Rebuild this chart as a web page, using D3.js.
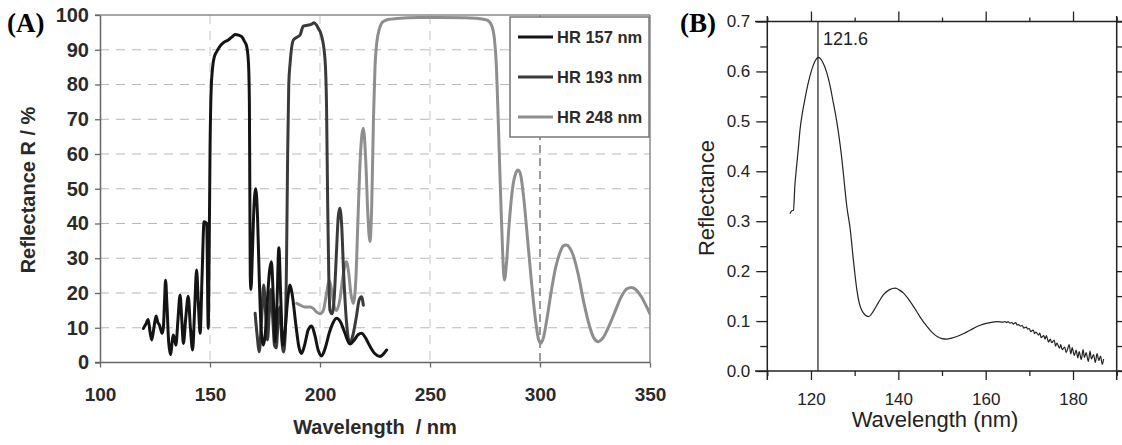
<!DOCTYPE html>
<html><head><meta charset="utf-8">
<script src="https://cdn.jsdelivr.net/npm/d3@7"></script>
<style>body{margin:0;background:#fff}svg{display:block}</style>
</head><body><svg id="c" width="1122" height="445"></svg>
<script>
// ---------- Panel A data ----------
const seriesNamesA = ["HR 157 nm", "HR 193 nm", "HR 248 nm"];
const xTicksA = [100, 150, 200, 250, 300, 350];
const yTicksA = [0, 10, 20, 30, 40, 50, 60, 70, 80, 90, 100];
const hr157 = [
[119.7,9.8],[120.8,11],[121.9,12.4],[122.7,9],[123.5,6.5],[124.5,10],[125.5,13.4],[126.3,11.5],[127,10.8],[127.6,9.5],[128.2,8.4],[128.8,10],[129.3,17],[129.8,23.7],[130.4,17],[131.2,6],[132.1,2.2],[132.8,6],[133.3,7.9],[133.9,6.5],[134.5,5],[135.4,12],[136.4,19.4],[137.2,12],[137.9,5.5],[139,13],[140.1,19.1],[141.1,10],[142.1,3.6],[143,15],[143.9,26.6],[144.7,17],[145.5,8.4],[146.4,25],[147.3,40.5],[148.5,40],[149.2,9.8],[149.6,30],[150,60],[150.5,78],[151.2,85],[152,88],[153,89.4],[154.5,91],[156,92],[158.3,92.8],[160,93.7],[161.4,94.4],[163,94.2],[164.4,93.8],[165.6,92.5],[166.7,90.9],[167.5,86],[167.9,75],[168.1,50],[168.3,25],[168.6,21],[169.3,32],[170,45],[170.8,50],[171.6,42],[172.4,24],[173.3,9],[174.2,5],[175.1,8],[176.1,18],[177,26],[177.9,29],[178.7,20],[179.6,6],[180.4,16],[181.3,33],[182.2,18],[183.1,5],[184.1,9],[185.3,18],[186.4,22.3],[187.5,19],[189,11],[190.4,4.5],[191.6,2.6],[193,5],[194.7,9.5],[196.2,10.5],[197.6,8],[199.2,3.5],[200.7,1.9],[202.3,4],[204.2,8.5],[206,11.5],[207.5,12.7],[209.2,11.8],[211.3,8.5],[213.6,5.3],[215.6,6.5],[217.3,8],[218.9,8.4],[220.6,7.2],[222.6,4.8],[225,2.5],[227.3,1.7],[228.8,2.4],[230.3,3.6]
];
const hr193 = [
[170.5,14.2],[171.4,8],[172.4,3.1],[173.4,12],[174.4,22.3],[175.3,14],[176.1,6.5],[177,15],[177.7,21],[178.5,13],[179.3,5],[180.1,4.2],[181,12],[181.8,16],[182.6,7],[183.4,3],[184.2,8],[184.8,30],[185.3,60],[185.8,80],[186.4,86],[187.9,92.8],[189.5,93.6],[190.9,94.2],[192.4,96.8],[194.7,97.1],[196,97.3],[197.3,97.8],[198.3,97.2],[199.2,96.2],[200.8,93.8],[202.3,87],[203,72.7],[203.5,45],[204,25],[204.5,15.1],[205.5,14],[206.5,19],[207.5,32],[208.3,42],[209,44.4],[209.8,40],[210.8,25],[212,12],[213.6,5.6],[215,8],[216.5,13],[217.8,18],[218.9,18.9],[219.4,17.8],[219.7,16.5]
];
const hr248 = [
[189.4,17],[191,16.5],[193,16],[195.5,16],[197,15.5],[198.5,14.5],[200,14],[201.5,15],[203,20],[204.2,23.7],[205.5,20],[206.5,16],[207.6,15],[209,18],[210.5,25],[212,29],[213,26],[214,20],[215.1,17],[216.3,24],[217.3,42],[218.4,60],[219.7,67.4],[220.8,58],[221.8,42],[222.7,34.8],[223.5,45],[224.3,70],[225,85],[225.8,92],[227,96],[228.5,98],[231,98.7],[235,99],[245,99.3],[255,99.3],[265,99.2],[272,99],[276,98.5],[278,97],[279.3,93],[280.2,85],[281,70],[282,50],[283,32],[283.8,23.7],[284.7,28],[286,40],[287.5,50],[289,54.5],[290.1,55.4],[291.2,54],[292.5,48],[294,38],[296,24],[298,12],[299.2,7],[300.3,5.5],[301.5,7],[303,12],[305,20],[307,27],[309,31.5],[310.5,33.5],[312.1,33.8],[313.5,33],[315,31],[317.5,25],[320,17],[322.5,10.5],[324.5,7],[326.5,6],[328.5,7],[331,10],[334,14.5],[337,19],[339.5,21.2],[341.6,21.6],[343.5,21],[346,19],[348.5,16],[350,14]
];

// ---------- Panel B data ----------
const xTicksB = [120, 140, 160, 180];
const xMinorB = [110, 130, 150, 170, 190];
const yTicksB = [0.0, 0.1, 0.2, 0.3, 0.4, 0.5, 0.6, 0.7];
const yMinorB = [0.05, 0.15, 0.25, 0.35, 0.45, 0.55, 0.65];
const peakB = 121.6;
const reflB = [
[115.2,0.315],[115.6,0.321],[116.0,0.322],[116.3,0.37],[116.6,0.40],[117.1,0.445],[117.5,0.484],[118.0,0.515],[118.6,0.544],[119.4,0.578],[120.2,0.604],[121.0,0.622],[121.7,0.628],[122.6,0.620],[123.6,0.598],[124.4,0.57],[125.1,0.538],[125.5,0.52],[126.3,0.477],[127.0,0.43],[127.4,0.397],[128.2,0.33],[129.0,0.283],[129.7,0.223],[130.5,0.163],[131.0,0.138],[131.6,0.122],[132.4,0.112],[133.2,0.109],[134.3,0.120],[135.5,0.138],[136.6,0.153],[138.0,0.163],[139.3,0.166],[140.3,0.162],[141.2,0.156],[142.4,0.143],[143.5,0.129],[145.0,0.108],[146.6,0.089],[147.8,0.077],[148.9,0.069],[150.0,0.065],[151.1,0.064],[152.2,0.066],[153.4,0.069],[155.0,0.075],[156.5,0.082],[158.0,0.089],[159.5,0.094],[161.0,0.097],[162.6,0.099],[164.0,0.098],
[164.4,0.099],[164.8,0.097],[165.1,0.099],[165.6,0.096],[166.0,0.097],[166.3,0.094],[166.9,0.097],[167.2,0.092],[167.5,0.093],[168.0,0.090],[168.4,0.091],[168.7,0.086],[169.3,0.088],[169.6,0.084],[170.0,0.085],[170.3,0.079],[170.9,0.082],[171.2,0.075],[171.5,0.078],[172.1,0.072],[172.4,0.076],[172.7,0.067],[173.3,0.071],[173.6,0.064],[173.9,0.071],[174.4,0.058],[174.8,0.064],[175.1,0.057],[175.7,0.062],[176.0,0.050],[176.3,0.056],[176.9,0.046],[177.2,0.053],[177.5,0.043],[178.1,0.048],[178.4,0.037],[178.8,0.045],[179.1,0.053],[179.5,0.034],[179.8,0.047],[180.3,0.031],[180.7,0.042],[181.1,0.026],[181.4,0.039],[181.9,0.023],[182.3,0.043],[182.6,0.027],[183.0,0.037],[183.5,0.019],[183.9,0.040],[184.2,0.024],[184.7,0.033],[185.1,0.017],[185.5,0.035],[185.9,0.021],[186.3,0.030],[186.7,0.013],[187.0,0.024]
];

const svg = d3.select("#c");
const SANS = "'Liberation Sans', Arial, sans-serif";
const SERIF = "'Liberation Serif', 'Times New Roman', serif";

// ================= Panel A =================
const xA = d3.scaleLinear().domain([100, 350]).range([100, 650]);
const yA = d3.scaleLinear().domain([0, 100]).range([362.5, 15]);
const gA = svg.append("g");

// grid
gA.append("g").selectAll("line").data(yTicksA.filter(d => d > 0 && d < 100)).join("line")
  .attr("x1", xA(100)).attr("x2", xA(350)).attr("y1", d => yA(d)).attr("y2", d => yA(d))
  .attr("stroke", "#b8b8b8").attr("stroke-width", 1.2).attr("stroke-dasharray", "9,7");
gA.append("g").selectAll("line").data(xTicksA.filter(d => d > 100 && d < 350)).join("line")
  .attr("x1", d => xA(d)).attr("x2", d => xA(d)).attr("y1", yA(100)).attr("y2", yA(0))
  .attr("stroke", d => d === 300 ? "#666" : "#c8c8c8").attr("stroke-width", d => d === 300 ? 1.3 : 1.1)
  .attr("stroke-dasharray", d => d === 300 ? "8,5" : "9,7");

// frame (top and right)
gA.append("line").attr("x1", 95).attr("x2", xA(350)).attr("y1", yA(100)).attr("y2", yA(100)).attr("stroke", "#8a8a8a").attr("stroke-width", 1.5);
gA.append("line").attr("x1", xA(350)).attr("x2", xA(350)).attr("y1", yA(100)).attr("y2", yA(0)).attr("stroke", "#8a8a8a").attr("stroke-width", 1.5);

// axes
const axA_x = gA.append("g").attr("transform", `translate(0,${yA(0)})`)
  .call(d3.axisBottom(xA).tickValues(xTicksA).tickSize(5).tickPadding(20).tickSizeOuter(0));
const axA_y = gA.append("g").attr("transform", `translate(${xA(100)},0)`)
  .call(d3.axisLeft(yA).tickValues(yTicksA).tickSize(5).tickPadding(6).tickSizeOuter(0));
[axA_x, axA_y].forEach(a => {
  a.selectAll("path.domain").attr("stroke", "#666").attr("stroke-width", 1.5);
  a.selectAll(".tick line").attr("stroke", "#666").attr("stroke-width", 1.3);
  a.selectAll("text").attr("font-family", SANS).attr("font-weight", "bold").attr("fill", "#2a2a2a");
});
axA_x.select("path.domain").attr("d", `M${95 - xA(100) + 100},0H${xA(350)}`);
axA_x.selectAll("text").attr("font-size", 19);
axA_y.selectAll("text").attr("font-size", 20);

// curves
const clipA = svg.append("clipPath").attr("id", "clipA").append("rect")
  .attr("x", xA(100)).attr("y", yA(100)).attr("width", xA(350) - xA(100)).attr("height", yA(0) - yA(100));
const lineA = d3.line().x(d => xA(d[0])).y(d => yA(d[1])).curve(d3.curveMonotoneX);
const colorsA = ["#141414", "#3a3a3a", "#8e8e8e"];
const dataA = [hr157, hr193, hr248];
const curves = gA.append("g").attr("clip-path", "url(#clipA)");
[2, 1, 0].forEach(i => {
  curves.append("path").datum(dataA[i]).attr("d", lineA).attr("fill", "none")
    .attr("stroke", colorsA[i]).attr("stroke-width", 3).attr("stroke-linejoin", "round").attr("stroke-linecap", "round");
});

// axis titles
gA.append("text").attr("x", 375).attr("y", 434).attr("text-anchor", "middle")
  .attr("font-family", SANS).attr("font-weight", "bold").attr("font-size", 20).attr("fill", "#2a2a2a")
  .attr("xml:space", "preserve").text("Wavelength  / nm");
gA.append("text").attr("transform", "translate(35,190) rotate(-90)").attr("text-anchor", "middle")
  .attr("font-family", SANS).attr("font-weight", "bold").attr("font-size", 20).attr("fill", "#2a2a2a")
  .text("Reflectance R / %");

// legend
const leg = gA.append("g");
leg.append("rect").attr("x", 510).attr("y", 17).attr("width", 139).attr("height", 120)
  .attr("fill", "#fff").attr("stroke", "#777").attr("stroke-width", 1.5);
seriesNamesA.forEach((n, i) => {
  const y = 37 + i * 40;
  leg.append("line").attr("x1", 518).attr("x2", 553).attr("y1", y).attr("y2", y)
    .attr("stroke", colorsA[i]).attr("stroke-width", 3);
  leg.append("text").attr("x", 557).attr("y", y + 6).attr("font-family", SANS).attr("font-weight", "bold")
    .attr("font-size", 16.5).attr("fill", "#2a2a2a").text(n);
});

// panel label
svg.append("text").attr("x", 7).attr("y", 32).attr("font-family", SERIF).attr("font-weight", "bold")
  .attr("font-size", 27).attr("fill", "#000").text("(A)");

// ================= Panel B =================
const xB = d3.scaleLinear().domain([110, 190]).range([767.3, 1116.7]);
const yB = d3.scaleLinear().domain([0, 0.7]).range([371, 21.5]);
const gB = svg.append("g");
const ink = "#222";

function ticks(axisFn, scale, vals, size, labels, pad) {
  return axisFn(scale).tickValues(vals).tickSize(size).tickSizeOuter(0).tickPadding(pad || 3)
    .tickFormat(labels ? null : () => "");
}
const bMaj = gB.append("g").attr("transform", `translate(0,${yB(0)})`).call(ticks(d3.axisBottom, xB, xTicksB, 9, true, 13).tickFormat(d3.format("d")));
const bMin = gB.append("g").attr("transform", `translate(0,${yB(0)})`).call(ticks(d3.axisBottom, xB, xMinorB, 5, false));
const tMaj = gB.append("g").attr("transform", `translate(0,${yB(0.7)})`).call(ticks(d3.axisTop, xB, xTicksB, 10, false));
const tMin = gB.append("g").attr("transform", `translate(0,${yB(0.7)})`).call(ticks(d3.axisTop, xB, xMinorB, 4, false));
const lMaj = gB.append("g").attr("transform", `translate(${xB(110)},0)`).call(ticks(d3.axisLeft, yB, yTicksB, 11, true, 6).tickFormat(d3.format(".1f")));
const lMin = gB.append("g").attr("transform", `translate(${xB(110)},0)`).call(ticks(d3.axisLeft, yB, yMinorB, 7, false));
const rMaj = gB.append("g").attr("transform", `translate(${xB(190)},0)`).call(ticks(d3.axisRight, yB, yTicksB, 11, false));
const rMin = gB.append("g").attr("transform", `translate(${xB(190)},0)`).call(ticks(d3.axisRight, yB, yMinorB, 7, false));
[bMaj, bMin, tMaj, tMin, lMaj, lMin, rMaj, rMin].forEach(a => {
  a.select("path.domain").remove();
  a.selectAll(".tick line").attr("stroke", ink).attr("stroke-width", 1.3);
  a.selectAll("text").attr("font-family", SANS).attr("font-size", 17).attr("fill", ink);
});

// frame
gB.append("line").attr("x1", 755).attr("x2", 1122).attr("y1", yB(0.7)).attr("y2", yB(0.7)).attr("stroke", ink).attr("stroke-width", 1.5);
gB.append("line").attr("x1", 755).attr("x2", 1122).attr("y1", yB(0)).attr("y2", yB(0)).attr("stroke", ink).attr("stroke-width", 1.5);
gB.append("line").attr("x1", xB(110)).attr("x2", xB(110)).attr("y1", 16).attr("y2", 380).attr("stroke", ink).attr("stroke-width", 1.5);
gB.append("line").attr("x1", xB(190)).attr("x2", xB(190)).attr("y1", 16).attr("y2", 380).attr("stroke", ink).attr("stroke-width", 1.5);

// peak marker
gB.append("line").attr("x1", xB(peakB)).attr("x2", xB(peakB)).attr("y1", yB(0.7)).attr("y2", yB(0))
  .attr("stroke", ink).attr("stroke-width", 1.2);
gB.append("text").attr("x", xB(peakB) + 5).attr("y", 45).attr("font-family", SANS).attr("font-size", 18)
  .attr("fill", ink).text(peakB.toFixed(1));

// curve
const lineB = d3.line().x(d => xB(d[0])).y(d => yB(d[1])).curve(d3.curveMonotoneX);
gB.append("path").datum(reflB).attr("d", lineB).attr("fill", "none").attr("stroke", ink).attr("stroke-width", 1.2);

// titles
gB.append("text").attr("x", 935).attr("y", 427).attr("text-anchor", "middle").attr("font-family", SANS)
  .attr("font-size", 22).attr("fill", ink).text("Wavelength (nm)");
gB.append("text").attr("transform", "translate(714,198) rotate(-90)").attr("text-anchor", "middle")
  .attr("font-family", SANS).attr("font-size", 22).attr("fill", ink).text("Reflectance");
svg.append("text").attr("x", 680).attr("y", 32).attr("font-family", SERIF).attr("font-weight", "bold")
  .attr("font-size", 27).attr("fill", "#000").text("(B)");
</script>
</body></html>
